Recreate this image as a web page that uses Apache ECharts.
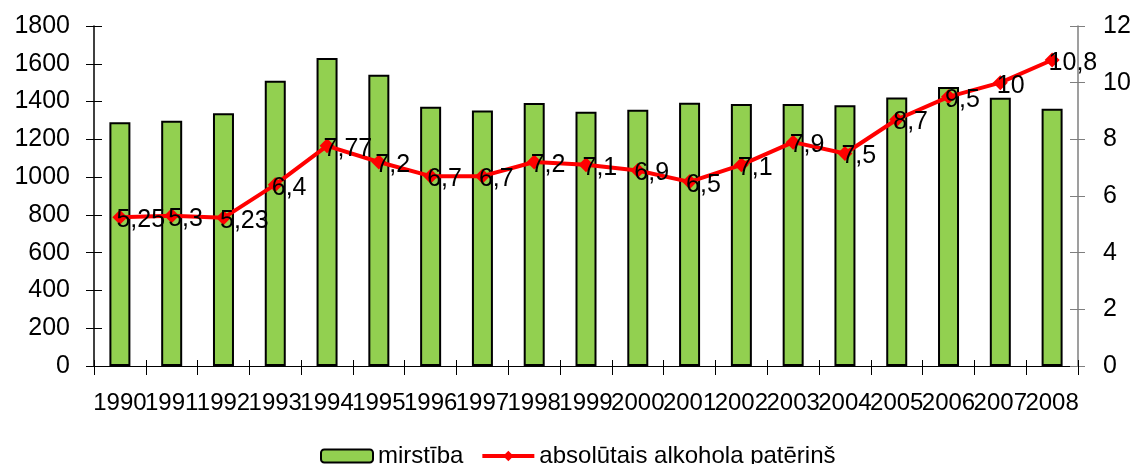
<!DOCTYPE html>
<html>
<head>
<meta charset="utf-8">
<script src="https://cdn.jsdelivr.net/npm/echarts@6/dist/echarts.min.js"></script>
<style>
  html, body { margin: 0; padding: 0; background: #fff; }
  #chart { width: 1134px; height: 464px; }
</style>
</head>
<body>
<div id="chart"></div>
<script>
// Years on the category axis
const years = ['1990','1991','1992','1993','1994','1995','1996','1997','1998','1999',
               '2000','2001','2002','2003','2004','2005','2006','2007','2008'];
// Mortality (left axis)
const mirstiba = [1290, 1299, 1338, 1510, 1631, 1542, 1373, 1353, 1392, 1346,
                  1357, 1394, 1387, 1387, 1380, 1422, 1477, 1420, 1362];
// Absolute alcohol consumption, litres (right axis)
const alkohols = [5.25, 5.3, 5.23, 6.4, 7.77, 7.2, 6.7, 6.7, 7.2, 7.1,
                  6.9, 6.5, 7.1, 7.9, 7.5, 8.7, 9.5, 10, 10.8];
// Axis tick values
const leftTicks = { min: 0, max: 1800, interval: 200 };
const rightTicks = { min: 0, max: 12, interval: 2 };

const FONT = 'Liberation Sans, Arial, sans-serif';
const chart = echarts.init(document.getElementById('chart'));

// Extra axes that only draw the inner half of each crossing tick
const tickOnly = (color) => ({
  axisLine: { show: false },
  axisLabel: { show: false },
  splitLine: { show: false },
  axisTick: { show: true, inside: true, length: 8, lineStyle: { color: color, width: 1 } }
});

chart.setOption({
  animation: false,
  backgroundColor: '#fff',
  textStyle: { fontFamily: FONT },
  grid: { left: 94, right: 56, top: 26, bottom: 98, containLabel: false },
  legend: {
    left: 315, top: 439,
    itemWidth: 52, itemHeight: 13, itemGap: 17,
    textStyle: { fontSize: 24, color: '#000', fontFamily: FONT },
    data: [
      { name: 'mirstība' },
      { name: 'absolūtais alkohola patēriņš', lineStyle: { width: 4 } }
    ]
  },
  xAxis: [
    {
      type: 'category', data: years, position: 'bottom',
      axisLine: { show: true, lineStyle: { color: '#000', width: 1 } },
      axisTick: { show: true, length: 9, lineStyle: { color: '#000' } },
      axisLabel: { interval: 0, fontSize: 24, color: '#000', margin: 25, fontFamily: FONT },
      splitLine: { show: false }
    },
    Object.assign({ type: 'category', data: years, position: 'bottom' }, tickOnly('#000'), {
      axisTick: { show: true, inside: true, length: 6, interval: 0, lineStyle: { color: '#000' } }
    })
  ],
  yAxis: [
    {
      type: 'value', position: 'left',
      min: leftTicks.min, max: leftTicks.max, interval: leftTicks.interval,
      axisLine: { show: true, lineStyle: { color: '#000', width: 1.5 } },
      axisTick: { show: true, length: 8, lineStyle: { color: '#000' } },
      axisLabel: { fontSize: 25, color: '#000', margin: 24, fontFamily: FONT,
                   formatter: (v) => String(v) },
      splitLine: { show: false }
    },
    {
      type: 'value', position: 'right',
      min: rightTicks.min, max: rightTicks.max, interval: rightTicks.interval,
      axisLine: { show: true, lineStyle: { color: '#7f7f7f', width: 1.5 } },
      axisTick: { show: true, length: 7, lineStyle: { color: '#7f7f7f' } },
      axisLabel: { fontSize: 25, color: '#000', margin: 25, fontFamily: FONT,
                   formatter: (v) => String(v) },
      splitLine: { show: false }
    },
    Object.assign({ type: 'value', position: 'left',
      min: leftTicks.min, max: leftTicks.max, interval: leftTicks.interval }, tickOnly('#000')),
    Object.assign({ type: 'value', position: 'right',
      min: rightTicks.min, max: rightTicks.max, interval: rightTicks.interval }, tickOnly('#7f7f7f'))
  ],
  series: [
    {
      name: 'mirstība', type: 'bar', data: mirstiba,
      xAxisIndex: 0, yAxisIndex: 0,
      barWidth: 21,
      itemStyle: { color: '#92D050', borderColor: '#000', borderWidth: 2 }
    },
    {
      name: 'absolūtais alkohola patēriņš', type: 'line', data: alkohols,
      xAxisIndex: 0, yAxisIndex: 1,
      symbol: 'diamond', symbolSize: 15,
      lineStyle: { color: '#FF0000', width: 4 },
      itemStyle: { color: '#FF0000' },
      z: 3,
      label: {
        show: true, position: 'right', distance: 0, offset: [-11, 3],
        fontSize: 25, color: '#000', fontFamily: FONT,
        textBorderWidth: 0, textBorderColor: 'transparent',
        formatter: (p) => String(p.value).replace('.', ',')
      }
    }
  ]
});
</script>
</body>
</html>
